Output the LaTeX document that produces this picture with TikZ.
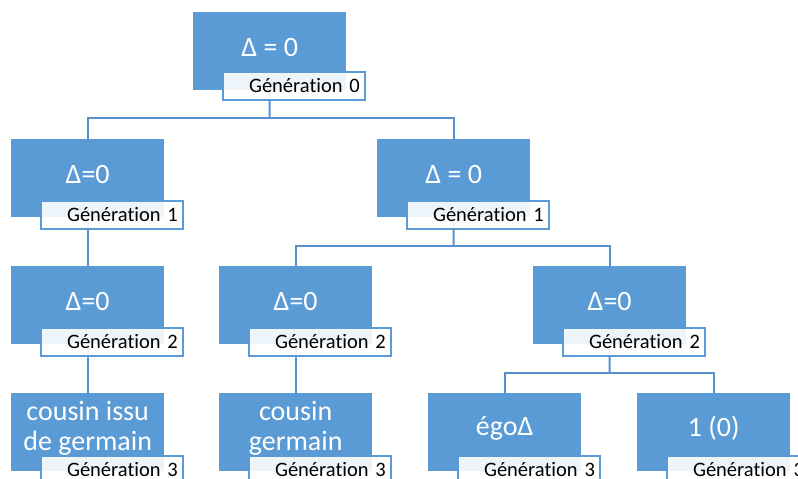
\documentclass[tikz,border=0pt]{standalone}
\usepackage{fontspec}
\setmainfont{Carlito}[Ligatures=NoCommon]
\usetikzlibrary{backgrounds}
\definecolor{boxblue}{HTML}{5B9BD5}
\definecolor{lineblue}{HTML}{5590CE}
\begin{document}
\begin{tikzpicture}[x=1pt,y=-1pt,
  box/.style={fill=boxblue, minimum width=153pt, minimum height=78pt, inner sep=0pt, anchor=north west},
  boxtext/.style={text=white, font=\fontsize{28}{30}\selectfont, align=center, inner sep=0pt},
  lab/.style={draw=boxblue, line width=1.8pt, fill=white, fill opacity=0.9, text opacity=1,
    minimum width=142pt, minimum height=28pt, text width=132pt, inner xsep=5pt, inner ysep=0pt,
    align=right, anchor=north west, text=black, font=\fontsize{20.5}{22}\selectfont},
  conn/.style={draw=lineblue, line width=2pt}
]
\useasboundingbox (0,0) rectangle (798,479);
\clip (0,0) rectangle (798,479);
\path (193,12) coordinate (p0)
      (11,139) coordinate (p1l) (377,139) coordinate (p1r)
      (11,266) coordinate (p2l) (219,266) coordinate (p2m) (533,266) coordinate (p2r)
      (11,393) coordinate (p3l) (219,393) coordinate (p3m) (428,393) coordinate (p3e) (637,393) coordinate (p3r);
% boxes
\foreach \n in {0,1l,1r,2l,2m,2r,3l,3m,3e,3r} {\node[box] (b\n) at (p\n) {};}
% box texts
\node[boxtext] (t0)  at ([yshift=4pt]b0.center)  {Δ = 0};
\node[boxtext] (t1l) at ([yshift=4pt]b1l.center) {Δ=0};
\node[boxtext] (t1r) at ([yshift=4pt]b1r.center) {Δ = 0};
\node[boxtext] (t2l) at ([yshift=4pt]b2l.center) {Δ=0};
\node[boxtext] (t2m) at ([yshift=4pt]b2m.center) {Δ=0};
\node[boxtext] (t2r) at ([yshift=4pt]b2r.center) {Δ=0};
\node[boxtext] (t3l) at ([yshift=4pt]b3l.center) {cousin issu\\de germain};
\node[boxtext] (t3m) at ([yshift=4pt]b3m.center) {cousin\\germain};
\node[boxtext] (t3e) at ([yshift=4pt]b3e.center) {égoΔ};
\node[boxtext] (t3r) at ([yshift=4pt]b3r.center) {1 (0)};
% labels
\node[lab] (l0)  at ([xshift=29pt,yshift=-59pt]b0.north west)  {Génération 0};
\node[lab] (l1l) at ([xshift=29pt,yshift=-61pt]b1l.north west) {Génération 1};
\node[lab] (l1r) at ([xshift=29pt,yshift=-61pt]b1r.north west) {Génération 1};
\node[lab] (l2l) at ([xshift=29pt,yshift=-61pt]b2l.north west) {Génération 2};
\node[lab] (l2m) at ([xshift=29pt,yshift=-61pt]b2m.north west) {Génération 2};
\node[lab] (l2r) at ([xshift=29pt,yshift=-61pt]b2r.north west) {Génération 2};
\node[lab] (l3l) at ([xshift=29pt,yshift=-62pt]b3l.north west) {Génération 3};
\node[lab] (l3m) at ([xshift=29pt,yshift=-62pt]b3m.north west) {Génération 3};
\node[lab] (l3e) at ([xshift=29pt,yshift=-62pt]b3e.north west) {Génération 3};
\node[lab] (l3r) at ([xshift=29pt,yshift=-62pt]b3r.north west) {Génération 3};
% connectors
\coordinate (j0) at (269.5,118);
\coordinate (j1) at (453.5,246);
\coordinate (j2) at (609.5,373);
\begin{scope}[on background layer]
\draw[conn] (b0.center) -- (j0);
\draw[conn] (b1l.north) |- (j0) -| (b1r.north);
\draw[conn] (b1l.center) -- (b2l.north);
\draw[conn] (b1r.center) -- (j1);
\draw[conn] (b2m.north) |- (j1) -| (b2r.north);
\draw[conn] (b2l.center) -- (b3l.north);
\draw[conn] (b2m.center) -- (b3m.north);
\draw[conn] (b2r.center) -- (j2);
\draw[conn] (b3e.north) |- (j2) -| (b3r.north);
\end{scope}
\end{tikzpicture}
\end{document}
